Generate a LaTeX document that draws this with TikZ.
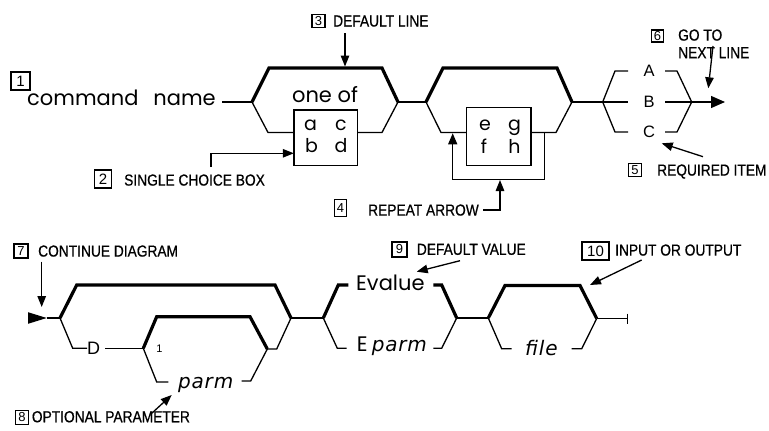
\documentclass[tikz,border=0pt]{standalone}
\usepackage{fontspec}
\setmainfont{Liberation Sans}
\newfontfamily\gothic{Poppins}
\newfontfamily\obl[LetterSpace=4]{DejaVu Sans}
\newfontfamily\narrow[FakeStretch=0.86,FakeBold=0.6]{Liberation Sans}
\usetikzlibrary{arrows.meta}

\begin{document}
\begin{tikzpicture}[x=1pt,y=-1pt,
  thinrail/.style={line width=1.3pt},
  thickrail/.style={line width=3.2pt},
  numbox/.style={draw, line width=1.1pt, inner sep=0pt, minimum width=14pt,
    minimum height=14pt, font=\fontsize{13}{13}\selectfont},
  note/.style={anchor=west, inner sep=0pt, text depth=0pt,
    font=\narrow\fontsize{16}{16}\selectfont},
  pointer/.style={line width=1.3pt, -{Triangle[length=11pt,width=8.5pt]}},
  word/.style={inner sep=0pt, font=\gothic\fontsize{21}{21}\selectfont},
  letter/.style={inner sep=0pt, font=\gothic\fontsize{19}{19}\selectfont},
  item/.style={inner sep=0pt, text depth=0pt, font=\fontsize{16.5}{16.5}\selectfont},
  slanted/.style={inner sep=0pt, font=\obl\itshape\fontsize{20}{20}\selectfont},
  choice/.style={draw, line width=1.3pt, inner sep=0pt}
]
\useasboundingbox (0,0) rectangle (769,431);

% ---------------- first syntax line ----------------
\node[numbox, minimum width=19pt, minimum height=18pt,
      font=\fontsize{15}{15}\selectfont] (n1) at (20.5,81) {1};
\node[word, anchor=base west] (cmd) at (27,105) {command\hspace{15pt}name};

\coordinate (g1l) at (252,102);
\coordinate (g1r) at (398,102);
\coordinate (g2l) at (426,102);
\coordinate (g2r) at (572,102);
\coordinate (g3l) at (602.7,102);
\coordinate (g3r) at (691.7,102);
\coordinate (goon) at (725,102);

% single choice group
\node[word, anchor=base] (oneof) at (325,102.7) {one of};
\node[choice, minimum width=63.3pt, minimum height=55.7pt] (box1) at (325.6,137.8) {};
\node[letter, anchor=base] (la) at (310.5,130.7) {a};
\node[letter, anchor=base] (lc) at (341,130.7) {c};
\node[letter, anchor=base] (lb) at (311.5,152.7) {b};
\node[letter, anchor=base] (ld) at (341,152.7) {d};

\draw[thinrail] (222,102) -- (g1l);
\draw[thickrail] (g1l) -- (269,68) -- (382,68) -- (g1r);
\draw[thinrail] (g1l) -- (268,132.5) -- (294,132.5);
\draw[thinrail] (357.3,132.5) -- (382,132.5) -- (g1r);
\draw[thinrail] (g1r) -- (g2l);

% repeatable group
\node[choice, minimum width=64.3pt, minimum height=58.4pt] (box2) at (498.8,136.5) {};
\node[letter, anchor=base] (le) at (485,130) {e};
\node[letter, anchor=base] (lg) at (514.5,130) {g};
\node[letter, anchor=base] (lf) at (484,153) {f};
\node[letter, anchor=base] (lh) at (514.5,153) {h};

\draw[thickrail] (g2l) -- (443,68) -- (557,68) -- (g2r);
\draw[thinrail] (g2l) -- (441,132.5) -- (466.7,132.5);
\draw[thinrail] (531,132.5) -- (556,132.5) -- (g2r);
\draw[thinrail, -{Triangle[length=11pt,width=9pt]}]
  (544.3,132.5) -- (544.3,179.3) -- (452.7,179.3) -- (452.7,133.3);
\draw[thinrail] (g2r) -- (g3l);

% required items
\node[item] (iA) at (649,71) {A};
\node[item] (iB) at (649,102) {B};
\node[item] (iC) at (649,132) {C};
\draw[thinrail] (g3l) -- (615,71) -- (628,71);
\draw[thinrail] (665,71) -- (677,71) -- (g3r);
\draw[thinrail] (g3l) -- (628,102);
\draw[thinrail] (665,102) -- (g3r);
\draw[thinrail] (g3l) -- (615,132) -- (628,132);
\draw[thinrail] (665,132) -- (677,132) -- (g3r);
\draw[thinrail, -{Triangle[length=14pt,width=12pt]}] (g3r) -- (goon);

% callouts of the first line
\node[numbox, minimum width=13pt, minimum height=12.5pt] (n3) at (318.5,21) {3};
\node[note] (t3) at (333,21) {DEFAULT LINE};
\draw[pointer] (345,33) -- (345,66.5);

\node[numbox, minimum width=17.5pt, minimum height=18pt,
      font=\fontsize{15}{15}\selectfont] (n2) at (103,179) {2};
\node[note] (t2) at (124,180) {SINGLE CHOICE BOX};
\draw[pointer] (211,167) -- (211,153.3) -- (293.8,153.3);

\node[numbox, minimum width=12.5pt, minimum height=17pt] (n4) at (340.5,208) {4};
\node[note] (t4) at (368,210) {REPEAT ARROW};
\draw[pointer] ([xshift=4pt]t4.east) -- (500,210) -- (500,180);

\node[numbox, minimum width=13.5pt, minimum height=13.5pt] (n5) at (635,170) {5};
\node[note] (t5) at (657,170) {REQUIRED ITEM};
\draw[pointer] (703,156.7) -- (661.7,143.3);

\node[numbox, minimum width=12pt, minimum height=12pt] (n6) at (657.5,36) {6};
\node[note] (t6a) at (678,35) {GO TO};
\node[note] (t6b) at (678,52.7) {NEXT LINE};
\draw[pointer] (713,46) -- (708.3,88.3);

% ---------------- second syntax line ----------------
\coordinate (start) at (46.7,318);
\coordinate (b1l) at (60,318);
\coordinate (b1r) at (291,318);
\coordinate (b2l) at (143.3,348.3);
\coordinate (b2r) at (267.3,349);
\coordinate (e1l) at (323.3,318);
\coordinate (e1r) at (456.7,318);
\coordinate (f1l) at (488.3,318);
\coordinate (f1r) at (596.7,318.5);
\coordinate (stop) at (628.3,318.5);

\fill (28,312.2) -- (start) -- (28,323.8) -- cycle;
\draw[thinrail] (start) -- (b1l);

% optional keyword D with its parameter
\node[item, font=\fontsize{18}{18}\selectfont] (kD) at (93.5,348) {D};
\node[inner sep=0pt, font=\fontsize{11}{11}\selectfont] (rep1) at (159.5,349) {1};
\node[slanted, anchor=base west] (p1) at (178,388) {parm};
\draw[thickrail] (b1l) -- (76.7,285) -- (275,285) -- (b1r);
\draw[thinrail] (b1l) -- (72.7,348.3) -- (87,348.3);
\draw[thinrail] (105,348.3) -- (b2l);
\draw[thickrail] (b2l) -- (156.7,316.7) -- (250,316.7) -- (b2r);
\draw[thinrail] (b2l) -- (156.7,382) -- (168.3,382);
\draw[thinrail] (241.7,381) -- (250.7,381) -- (b2r);
\draw[thinrail] (b2r) -- (276.7,349) -- (b1r);
\draw[thinrail] (b1r) -- (e1l);

% value choice
\node[word, anchor=base west] (ev) at (356,290) {Evalue};
\node[word, anchor=base west] (ee) at (356.7,351.7) {E};
\node[slanted, anchor=base west] (ep) at (371.7,351.7) {parm};
\draw[thickrail] (e1l) -- (338.3,285) -- (348.3,285);
\draw[thickrail] (433.3,285) -- (441.7,285) -- (e1r);
\draw[thinrail] (e1l) -- (337.3,348.3) -- (346.7,348.3);
\draw[thinrail] (433.3,348.3) -- (441.7,348.3) -- (e1r);
\draw[thinrail] (e1r) -- (f1l);

% file group
\node[slanted, anchor=base west] (fl) at (525,355) {file};
\draw[thickrail] (f1l) -- (505,285.5) -- (580,285.5) -- (f1r);
\draw[thinrail] (f1l) -- (501.7,348.8) -- (511.7,348.8);
\draw[thinrail] (571.7,348.8) -- (581.7,348.8) -- (f1r);
\draw[thinrail, -{Bar[width=10pt]}] (f1r) -- (stop);

% callouts of the second line
\node[numbox] (n7) at (21,251) {7};
\node[note] (t7) at (38,251) {CONTINUE DIAGRAM};
\draw[pointer] (41.7,261.7) -- (41.7,307);

\node[numbox, minimum width=12.5pt, minimum height=14pt] (n8) at (22,417.5) {8};
\node[note] (t8) at (31.7,416.7) {OPTIONAL PARAMETER};
\draw[pointer] (151.7,413.3) -- (171.7,395);

\node[numbox, minimum width=15pt, minimum height=15pt] (n9) at (399.5,249.5) {9};
\node[note] (t9) at (416.7,249.3) {DEFAULT VALUE};
\draw[pointer] (460,260.7) -- (416.7,271.7);

\node[numbox, minimum width=27pt, minimum height=18pt,
      font=\fontsize{15}{15}\selectfont] (n10) at (595.5,251) {10};
\node[note] (t10) at (615,250) {INPUT OR OUTPUT};
\draw[pointer] (641.7,260) -- (590,285);
\end{tikzpicture}
\end{document}
